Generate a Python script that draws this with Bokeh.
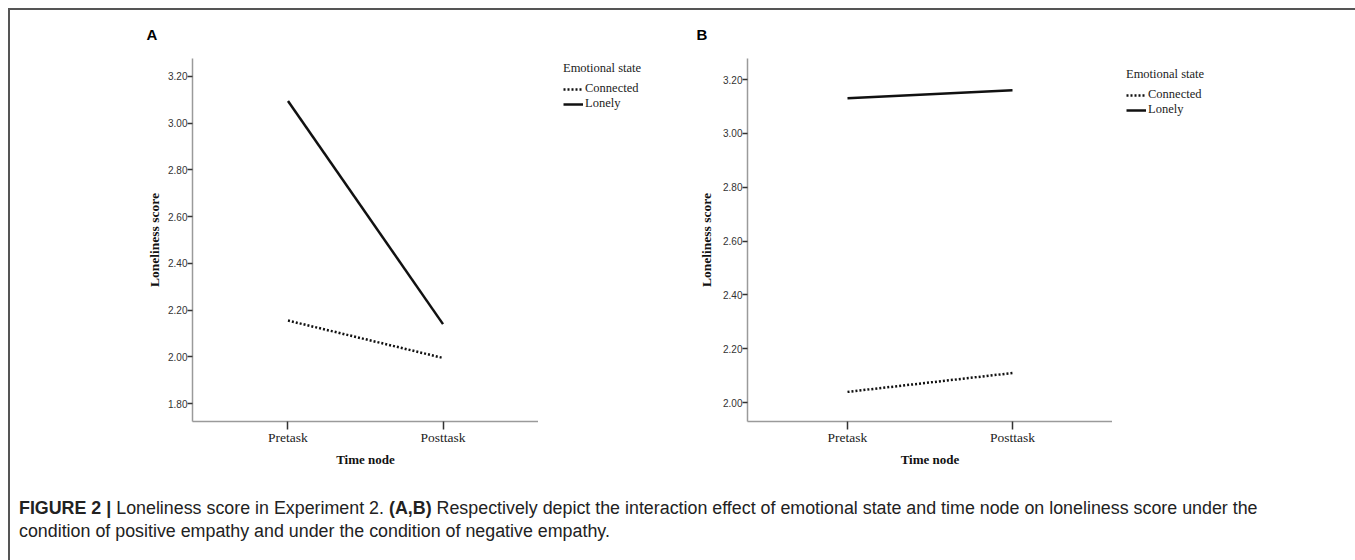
from bokeh.plotting import figure
from bokeh.models import (FactorRange, Range1d, FixedTicker, NumeralTickFormatter,
                          Legend, LegendItem, Div)
from bokeh.layouts import column, row
from bokeh.embed import file_html
from bokeh.resources import INLINE

# ---- data ----
time_nodes = ["Pretask", "Posttask"]
a_connected = [2.155, 1.995]
a_lonely = [3.095, 2.14]
b_connected = [2.04, 2.11]
b_lonely = [3.13, 3.16]
a_ticks = [1.8, 2.0, 2.2, 2.4, 2.6, 2.8, 3.0, 3.2]
b_ticks = [2.0, 2.2, 2.4, 2.6, 2.8, 3.0, 3.2]
legend_title = "Emotional state"
series_labels = ["Connected", "Lonely"]

SERIF = "Liberation Serif"
SANS = "Liberation Sans"
H = 465
TOP = 47
BOTTOM = 54


def make_panel(letter, connected, lonely, ticks, y0, y1, pad, width, mbl,
               title_offset, ylab_standoff):
    p = figure(width=width, height=H, output_backend="svg", toolbar_location=None,
               x_range=FactorRange(factors=time_nodes, range_padding=pad,
                                   range_padding_units="absolute"),
               y_range=Range1d(y0, y1),
               min_border_left=mbl, min_border_right=0,
               min_border_top=TOP, min_border_bottom=BOTTOM)
    p.outline_line_color = None
    p.xgrid.visible = False
    p.ygrid.visible = False
    p.background_fill_color = "white"
    p.border_fill_color = "white"

    p.title.text = letter
    p.title.align = "left"
    p.title.vertical_align = "middle"
    p.title.offset = title_offset
    p.title.text_font = SANS
    p.title.text_font_size = "15px"
    p.title.text_font_style = "bold"
    p.title.text_color = "#000000"
    p.title.standoff = 29

    ya = p.yaxis[0]
    ya.ticker = FixedTicker(ticks=ticks)
    ya.formatter = NumeralTickFormatter(format="0.00")
    ya.axis_line_color = "#9a9a9a"
    ya.axis_line_width = 1.5
    ya.major_tick_out = 5
    ya.major_tick_in = 0
    ya.major_tick_line_color = "#333333"
    ya.major_tick_line_width = 1.5
    ya.minor_tick_line_color = None
    ya.major_label_text_font = SANS
    ya.major_label_text_font_size = "10px"
    ya.major_label_text_color = "#333333"
    ya.major_label_standoff = 0
    ya.axis_label = "Loneliness score"
    ya.axis_label_text_font = SERIF
    ya.axis_label_text_font_size = "13.5px"
    ya.axis_label_text_font_style = "bold"
    ya.axis_label_text_color = "#111111"
    ya.axis_label_standoff = ylab_standoff

    xa = p.xaxis[0]
    xa.axis_line_color = "#9a9a9a"
    xa.axis_line_width = 1.5
    xa.major_tick_out = 8
    xa.major_tick_in = 0
    xa.major_tick_line_color = "#333333"
    xa.major_tick_line_width = 1.5
    xa.minor_tick_line_color = None
    xa.major_label_text_font = SERIF
    xa.major_label_text_font_size = "13.5px"
    xa.major_label_text_color = "#222222"
    xa.major_label_standoff = 0
    xa.axis_label = "Time node"
    xa.axis_label_text_font = SERIF
    xa.axis_label_text_font_size = "13px"
    xa.axis_label_text_font_style = "bold"
    xa.axis_label_text_color = "#111111"
    xa.axis_label_standoff = 4

    p.line(x=time_nodes, y=connected, line_color="#111111", line_width=2.5, line_dash="2 2")
    p.line(x=time_nodes, y=lonely, line_color="#111111", line_width=2.5)
    return p


def make_legend(width, loc, connected, lonely, y0, y1):
    q = figure(width=width, height=H, output_backend="svg", toolbar_location=None,
               x_axis_location=None, y_axis_location=None,
               x_range=FactorRange(factors=time_nodes), y_range=Range1d(y0, y1),
               min_border_left=0, min_border_right=0,
               min_border_top=TOP, min_border_bottom=BOTTOM)
    q.outline_line_color = None
    q.xgrid.visible = False
    q.ygrid.visible = False
    q.border_fill_color = "white"
    # the same series, hidden here; they only supply the legend's line samples
    g_conn = q.line(x=time_nodes, y=connected, line_color="#111111", line_width=2.5,
                    line_dash="2 2", visible=False)
    g_lon = q.line(x=time_nodes, y=lonely, line_color="#111111", line_width=2.5,
                   visible=False)
    leg = Legend(items=[LegendItem(label=series_labels[0], renderers=[g_conn]),
                        LegendItem(label=series_labels[1], renderers=[g_lon])],
                 title=legend_title, location=loc)
    leg.title_text_font = SERIF
    leg.title_text_font_size = "12.5px"
    leg.title_text_font_style = "normal"
    leg.title_text_color = "#222222"
    leg.title_standoff = 5
    leg.label_text_font = SERIF
    leg.label_text_font_size = "12.5px"
    leg.label_text_color = "#222222"
    leg.label_standoff = 2
    leg.glyph_width = 20
    leg.glyph_height = 14
    leg.label_height = 14
    leg.spacing = 0
    leg.padding = 0
    leg.margin = 0
    leg.border_line_color = None
    leg.background_fill_alpha = 0
    leg.inactive_fill_alpha = 0
    q.add_layout(leg)
    return q


pa = make_panel("A", a_connected, a_lonely, a_ticks, 1.723, 3.277, 0.116,
                528, 182, -46, 3)
la = make_legend(137, (25, 310), a_connected, a_lonely, 1.723, 3.277)
pb = make_panel("B", b_connected, b_lonely, b_ticks, 1.930, 3.278, 0.106,
                437, 72, -51, 6)
lb = make_legend(243, (14, 304), b_connected, b_lonely, 1.930, 3.278)

caption_html = (
    '<div style="padding:17px 0 0 4px; font-family:\'Liberation Sans\', sans-serif;'
    ' font-size:17.85px; line-height:23px; color:#222; white-space:nowrap;">'
    '<b>FIGURE 2 |</b> Loneliness score in Experiment 2. <b>(A,B)</b> Respectively depict the '
    'interaction effect of emotional state and time node on loneliness score under the<br>'
    'condition of positive empathy and under the condition of negative empathy.</div>'
)
cap = Div(text=caption_html, width=1345, height=77)

layout = column(row(pa, la, pb, lb, spacing=0), cap, spacing=0, margin=(8, 0, 0, 8),
                styles={"border-top": "2px solid #555555", "border-left": "2px solid #555555"})

open("out.html", "w").write(file_html(layout, INLINE))
